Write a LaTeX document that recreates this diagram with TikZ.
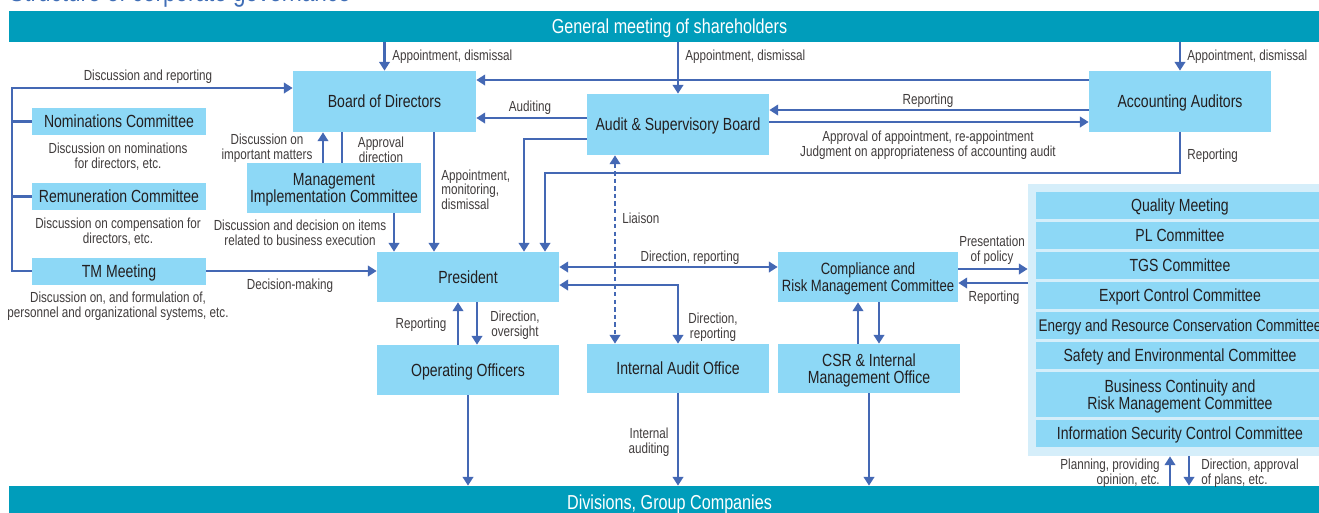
\documentclass[tikz,border=0pt]{standalone}
\usepackage{fontspec}
\setmainfont{Liberation Sans}[FakeStretch=0.80]
\usepackage{xcolor}
\definecolor{barteal}{RGB}{0,157,187}
\definecolor{boxblue}{RGB}{141,216,246}
\definecolor{panelblue}{RGB}{213,238,250}
\definecolor{lineblue}{RGB}{68,104,180}
\definecolor{textdark}{RGB}{35,31,32}
\definecolor{labelgray}{RGB}{64,60,60}
\definecolor{titleblue}{RGB}{64,110,182}
\usepackage{tikz}
\usetikzlibrary{arrows, arrows.meta, positioning}

\newcommand{\boxfont}{\fontsize{10}{9.8}\selectfont}
\newcommand{\lblfont}{\fontsize{8.3}{8.5}\selectfont}
\newcommand{\barfont}{\fontsize{11.5}{12}\selectfont}
\newcommand{\titlefont}{\fontsize{16}{18}\selectfont}

\begin{document}
\begin{tikzpicture}[x=0.02cm, y=-0.02cm,
	>={Triangle[length=5pt, width=6pt]},
	sz/.style 2 args={minimum width=#1*0.02cm, minimum height=#2*0.02cm},
	box/.style={fill=boxblue, text=textdark, inner sep=0pt, align=center, text depth=0pt, font=\boxfont},
	bar/.style={fill=barteal, text=white, inner sep=0pt, text depth=0pt, font=\barfont},
	lbl/.style={text=labelgray, inner sep=0pt, align=center, yshift=-1pt, font=\lblfont},
	conn/.style={draw=lineblue, line width=1.2pt}]

\useasboundingbox (0,0) rectangle (1319,512);

\node[anchor=base west, inner sep=0pt, text=titleblue, font=\titlefont] (title) at (9,1.5) {Structure of corporate governance};

% bars top and bottom
\node[bar, sz={1321}{31}] (gm)  at (669.5,26.5) {General meeting of shareholders};
\node[bar, sz={1321}{32}] (div) at (669.5,502)  {Divisions, Group Companies};

% boxes
\node[box, sz={183}{61}] (bod)  at (384.5,101.5) {Board of Directors};
\node[box, sz={182}{61}] (asb)  at (678,124.5)   {Audit \& Supervisory Board};
\node[box, sz={182}{61}] (aa)   at (1180,101.5)  {Accounting Auditors};
\node[box, sz={174}{27}] (nom)  at (119,121.5)   {Nominations Committee};
\node[box, sz={174}{27}] (rem)  at (119,196.5)   {Remuneration Committee};
\node[box, sz={174}{27}] (tm)   at (119,271)     {TM Meeting};
\node[box, sz={174}{50}] (mic)  at (334,188)     {Management\\Implementation Committee};
\node[box, sz={182}{50}] (pres) at (468,277)     {President};
\node[box, sz={182}{50}] (oo)   at (468,370)     {Operating Officers};
\node[box, sz={182}{49}] (iao)  at (678,368.5)   {Internal Audit Office};
\node[box, sz={182}{49}] (csr)  at (869,368.5)   {CSR \& Internal\\Management Office};
\node[box, sz={180}{50}, font=\fontsize{9.3}{9.8}\selectfont] (crm) at (868,277) {Compliance and\\Risk Management Committee};

% committee panel
\node[fill=panelblue, inner sep=0pt, sz={302}{272}] (panel) at (1179,320) {};
\foreach \y/\h/\nm/\txt in {205.5/27/qm/Quality Meeting, 235.5/27/pl/PL Committee,
	265.5/27/tgs/TGS Committee, 295.5/27/exp/Export Control Committee,
	325.5/27/erc/{\fontsize{9.6}{9.8}\selectfont Energy and Resource Conservation Committee},
	355.5/27/sec/Safety and Environmental Committee,
	394.5/45/bcr/{Business Continuity and\\Risk Management Committee},
	433.5/27/isc/Information Security Control Committee} {
	\node[box, sz={288}{\h}] (\nm) at (1180,\y) {\txt};
}

% shareholders down
\draw[conn, ->] (gm.south -| bod.north) -- (bod.north);
\draw[conn, ->] (gm.south -| asb.north) -- (asb.north);
\draw[conn, ->] (gm.south -| aa.north) -- (aa.north);
\node[lbl, anchor=west] (l-gm1) at (392,55)  {Appointment, dismissal};
\node[lbl, anchor=west] (l-gm2) at (685,55)  {Appointment, dismissal};
\node[lbl, anchor=west] (l-gm3) at (1187,55) {Appointment, dismissal};

% auditors and board lines
\draw[conn, ->] (aa.west |- 0,80) -- (bod.east |- 0,80);
\draw[conn, ->] (asb.west |- 0,118) -- (bod.east |- 0,118);
\draw[conn, ->] (aa.west |- 0,110) -- (asb.east |- 0,110);
\draw[conn, ->] (asb.east |- 0,122) -- (aa.west |- 0,122);
\node[lbl] (l-aud) at (530,106) {Auditing};
\node[lbl] (l-rep1) at (928,99) {Reporting};
\node[lbl] (l-appr) at (928,143) {Approval of appointment, re-appointment\\Judgment on appropriateness of accounting audit};

% down to president
\draw[conn, ->] (asb.west |- 0,139) -| (pres.north -| 524,0);
\draw[conn, ->] (aa.south) -- (aa.south |- 0,173) -| (pres.north -| 545,0);
\node[lbl, anchor=west] (l-rep2) at (1187,154) {Reporting};
\draw[conn, ->] (bod.south -| 434,0) -- (pres.north -| 434,0);
\node[lbl, anchor=west, align=left] (l-apm) at (441,188) {Appointment,\\monitoring,\\dismissal};

% management implementation committee
\draw[conn, ->] (mic.north -| 323,0) -- (bod.south -| 323,0);
\draw[conn] (bod.south -| 342,0) -- (mic.north -| 342,0);
\draw[conn, ->] (mic.south -| 394,0) -- (pres.north -| 394,0);
\node[lbl] (l-dim) at (267,146) {Discussion on\\important matters};
\node[lbl] (l-apd) at (381,148) {Approval\\direction};
\node[lbl] (l-dde) at (300,231) {Discussion and decision on items\\related to business execution};

% committees on the left
\draw[conn, ->] (tm.west) -- (tm.west -| 12,0) |- (bod.west |- 0,88);
\draw[conn] (nom.west) -- (nom.west -| 12,0);
\draw[conn] (rem.west) -- (rem.west -| 12,0);
\draw[conn, ->] (tm.east) -- (pres.west |- tm.east);
\node[lbl] (l-dr)  at (148,75)  {Discussion and reporting};
\node[lbl] (l-nom) at (118,155) {Discussion on nominations\\for directors, etc.};
\node[lbl] (l-rem) at (118,230) {Discussion on compensation for\\directors, etc.};
\node[lbl] (l-tm)  at (118,304) {Discussion on, and formulation of,\\personnel and organizational systems, etc.};
\node[lbl] (l-dm)  at (290,284) {Decision-making};

% president to the right
\draw[conn, <->] (pres.east |- 0,267) -- (crm.west |- 0,267);
\draw[conn, <->] (pres.east |- 0,285) -| (iao.north);
\draw[conn, <->, dash pattern=on 2.5pt off 1.8pt] (asb.south -| 615,0) -- (iao.north -| 615,0);
\node[lbl] (l-drc) at (690,256) {Direction, reporting};
\node[lbl] (l-dri) at (713,325) {Direction,\\reporting};
\node[lbl, anchor=west] (l-lia) at (622,217) {Liaison};

% operating officers
\draw[conn, ->] (pres.south -| 477,0) -- (oo.north -| 477,0);
\draw[conn, ->] (oo.north -| 458,0) -- (pres.south -| 458,0);
\node[lbl] (l-rep3) at (421,323) {Reporting};
\node[lbl] (l-dov) at (515,323) {Direction,\\oversight};

% down to divisions
\draw[conn, ->] (oo.south) -- (oo.south |- div.north);
\draw[conn, ->] (iao.south) -- (iao.south |- div.north);
\draw[conn, ->] (csr.south) -- (csr.south |- div.north);
\node[lbl] (l-ia) at (649,440) {Internal\\auditing};

% compliance
\draw[conn, ->] (csr.north -| 858,0) -- (crm.south -| 858,0);
\draw[conn, ->] (crm.south -| 879,0) -- (csr.north -| 879,0);
\draw[conn, ->] (crm.east |- 0,269) -- (panel.west |- 0,269);
\draw[conn, ->] (panel.west |- 0,283) -- (crm.east |- 0,283);
\node[lbl] (l-pop) at (992,248) {Presentation\\of policy};
\node[lbl] (l-rep4) at (994,296) {Reporting};

% panel and divisions
\draw[conn, ->] (div.north -| 1170,0) -- (panel.south -| 1170,0);
\draw[conn, ->] (panel.south -| 1189,0) -- (div.north -| 1189,0);
\node[lbl, anchor=east, align=right] (l-plan) at (1160,471) {Planning, providing\\opinion, etc.};
\node[lbl, anchor=west, align=left] (l-dap) at (1201,471) {Direction, approval\\of plans, etc.};

\end{tikzpicture}
\end{document}
